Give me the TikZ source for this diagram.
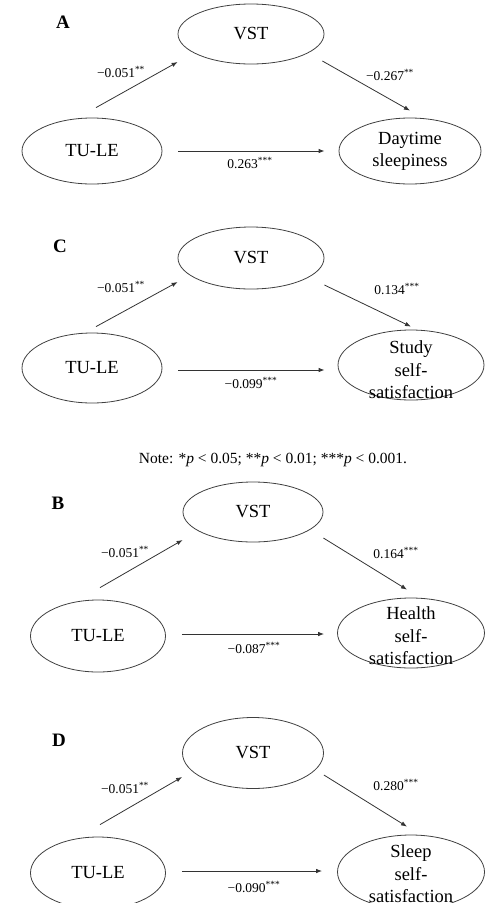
\documentclass[tikz,border=0pt]{standalone}
\usepackage{fontspec}
\setmainfont{Liberation Serif}
\usepackage{tikz}
\usetikzlibrary{shapes.geometric,arrows.meta}

\tikzset{
  var/.style={ellipse, draw=black!75, line width=0.8pt, inner sep=0pt, align=center,
    font=\fontsize{18.5}{22}\selectfont},
  vartext/.style={inner sep=0pt, align=center, font=\fontsize{18.5}{22.5}\selectfont},
  coef/.style={inner sep=0pt, font=\fontsize{13.5}{15}\selectfont},
  panel/.style={inner sep=0pt, font=\fontsize{19}{22}\selectfont\bfseries},
  path/.style={draw=black!80, line width=0.8pt, -{Latex[length=6pt,width=4.5pt]}}
}

\begin{document}
\begin{tikzpicture}[x=1pt, y=-1pt]
\useasboundingbox (0,0) rectangle (486,903);

\node[panel] (labA) at (63,22) {A};
\node[var, minimum width=146pt, minimum height=60pt] (vstA) at (251,34) {VST};
\node[var, minimum width=140pt, minimum height=66pt] (tuleA) at (92,151) {TU-LE};
\node[var, minimum width=142pt, minimum height=66pt] (outA) at (410,151) {Daytime\\sleepiness};
\draw[path] ([xshift=4pt,yshift=10pt]tuleA.north) -- ([yshift=-28pt]vstA.west);
\draw[path] ([xshift=-2pt,yshift=-27pt]vstA.east) -- ([yshift=7pt]outA.north);
\draw[path] ([xshift=16pt]tuleA.east) -- ([xshift=-14pt]outA.west |- tuleA.east);
\node[coef] (cA1) at (121,72) {−0.051\textsuperscript{**}};
\node[coef] (cA2) at (390,75) {−0.267\textsuperscript{**}};
\node[coef] (cA3) at (250,163) {0.263\textsuperscript{***}};

\node[panel] (labC) at (60,246) {C};
\node[var, minimum width=146pt, minimum height=62pt] (vstC) at (251,258) {VST};
\node[var, minimum width=140pt, minimum height=70pt] (tuleC) at (92,368) {TU-LE};
\node[var, minimum width=146pt, minimum height=70pt] (outC) at (411,365) {};
\node[vartext] (txtC) at (411,370) {Study\\self-\\satisfaction};
\draw[path] ([xshift=4pt,yshift=6pt]tuleC.north) -- ([yshift=-24pt]vstC.west);
\draw[path] ([yshift=-27pt]vstC.east) -- ([yshift=3pt]outC.north);
\draw[path] ([xshift=16pt,yshift=-2pt]tuleC.east) -- ([xshift=-13pt,yshift=-2pt]outC.west |- tuleC.east);
\node[coef] (cC1) at (121,287) {−0.051\textsuperscript{**}};
\node[coef] (cC2) at (397,289) {0.134\textsuperscript{***}};
\node[coef] (cC3) at (251,383) {−0.099\textsuperscript{***}};

\node[inner sep=0pt, font=\fontsize{15.5}{18}\selectfont] (note) at (273,460)
  {Note: *\textit{p} < 0.05; **\textit{p} < 0.01; ***\textit{p} < 0.001.};

\node[panel] (labB) at (58,503) {B};
\node[var, minimum width=140pt, minimum height=60pt] (vstB) at (253,512) {VST};
\node[var, minimum width=135pt, minimum height=72pt] (tuleB) at (98,636) {TU-LE};
\node[var, minimum width=147pt, minimum height=70pt] (outB) at (411,633) {};
\node[vartext] (txtB) at (411,636) {Health\\self-\\satisfaction};
\draw[path] ([xshift=2pt,yshift=12pt]tuleB.north) -- ([yshift=-28pt]vstB.west);
\draw[path] ([yshift=-26pt]vstB.east) -- ([xshift=-4pt,yshift=8pt]outB.north);
\draw[path] ([xshift=16pt,yshift=2pt]tuleB.east) -- ([xshift=-13pt,yshift=2pt]outB.west |- tuleB.east);
\node[coef] (cB1) at (125,552) {−0.051\textsuperscript{**}};
\node[coef] (cB2) at (396,553) {0.164\textsuperscript{***}};
\node[coef] (cB3) at (254,648) {−0.087\textsuperscript{***}};

\node[panel] (labD) at (59,740) {D};
\node[var, minimum width=141pt, minimum height=71pt] (vstD) at (253,753) {VST};
\node[var, minimum width=135pt, minimum height=72pt] (tuleD) at (98,873) {TU-LE};
\node[var, minimum width=147pt, minimum height=74pt] (outD) at (411,872) {};
\node[vartext] (txtD) at (411,874) {Sleep\\self-\\satisfaction};
\draw[path] ([xshift=2pt,yshift=12pt]tuleD.north) -- ([yshift=-24pt]vstD.west);
\draw[path] ([yshift=-22pt]vstD.east) -- ([xshift=-4pt,yshift=8pt]outD.north);
\draw[path] ([xshift=16pt,yshift=2pt]tuleD.east) -- ([xshift=-15pt,yshift=2pt]outD.west |- tuleD.east);
\node[coef] (cD1) at (125,788) {−0.051\textsuperscript{**}};
\node[coef] (cD2) at (396,785) {0.280\textsuperscript{***}};
\node[coef] (cD3) at (254,887) {−0.090\textsuperscript{***}};

\end{tikzpicture}
\end{document}
